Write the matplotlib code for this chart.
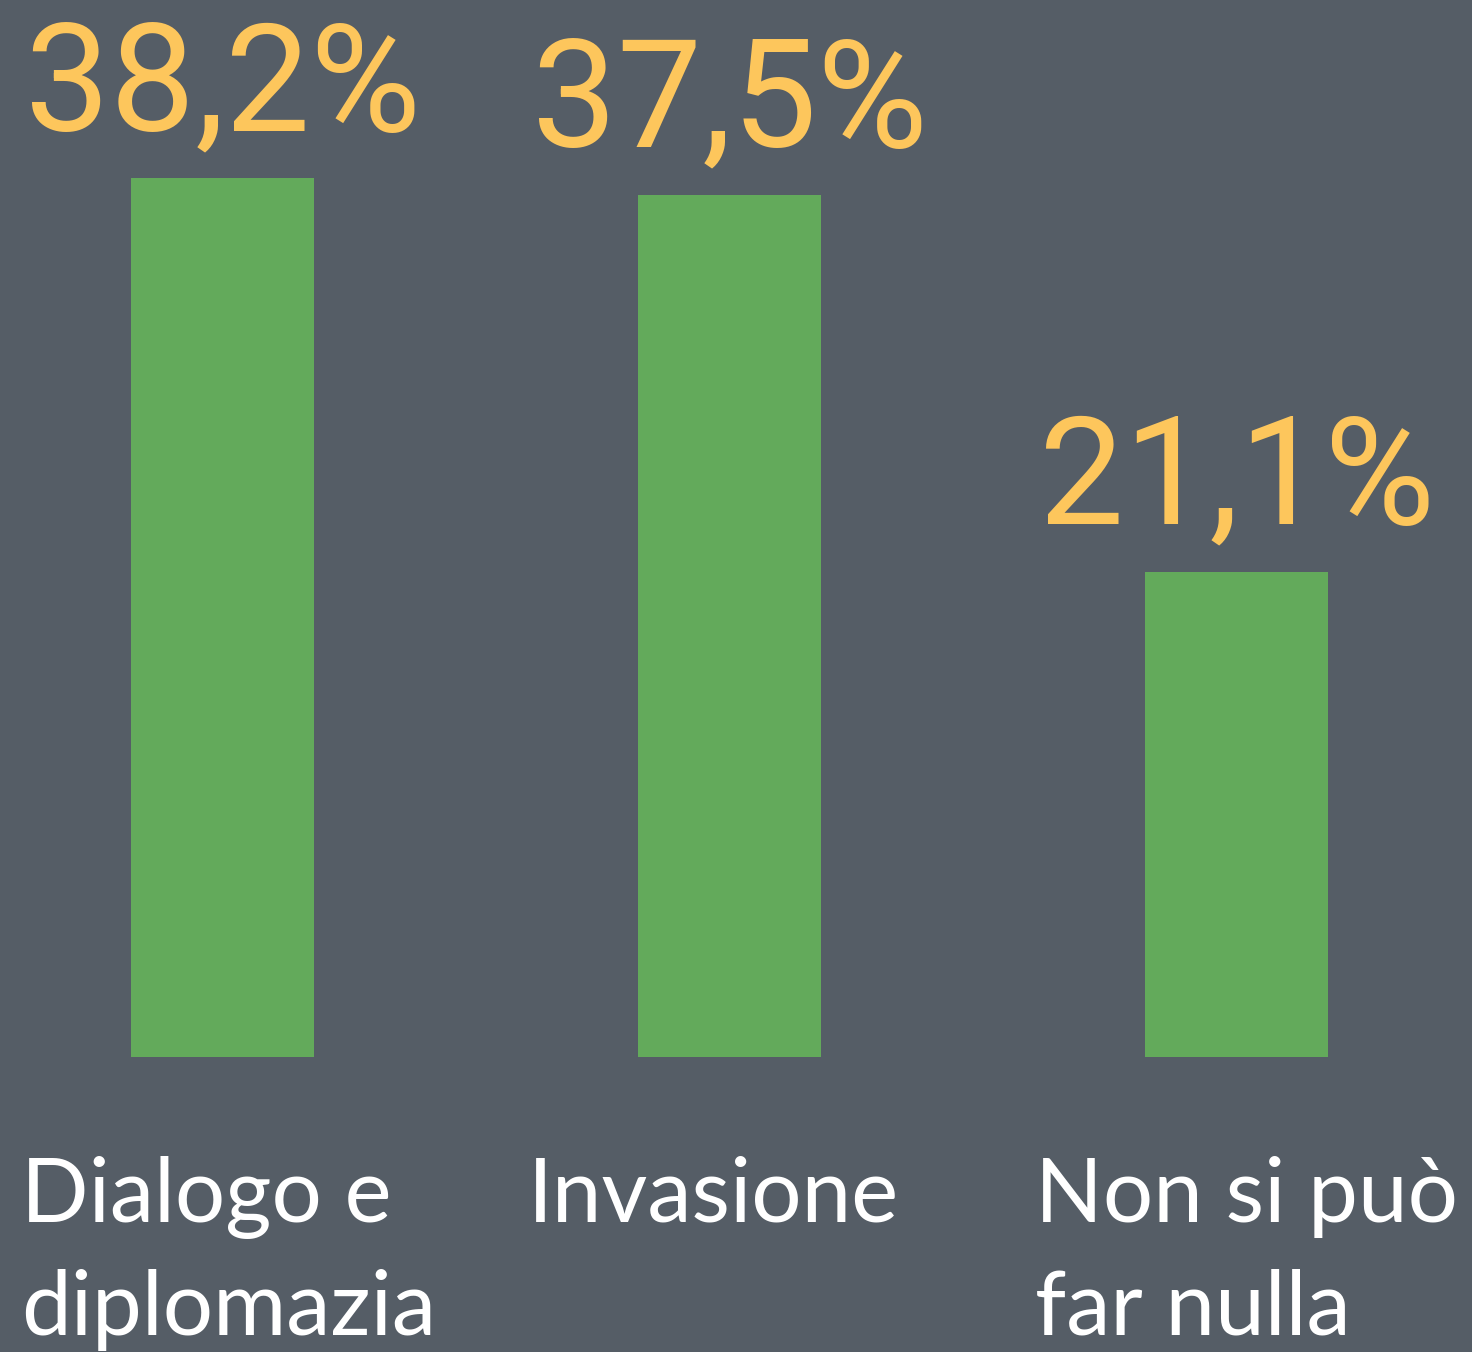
import matplotlib.pyplot as plt

categories = ["Dialogo e\ndiplomazia", "Invasione", "Non si può\nfar nulla"]
values = [38.2, 37.5, 21.1]
value_labels = ["38,2%", "37,5%", "21,1%"]

BG = "#555d66"
GREEN = "#63aa5b"
YELLOW = "#fdc65c"

fig = plt.figure(figsize=(14.72, 13.52), dpi=100, facecolor=BG)
ax = fig.add_axes([0, 0, 1, 1])
ax.set_facecolor(BG)

x = list(range(len(values)))
ax.bar(x, values, width=0.361, color=GREEN)

for i, v in enumerate(values):
    ax.text(i, v + 2.1, value_labels[i], ha="center", va="baseline",
            color=YELLOW, fontsize=109, family="Roboto")

# etichette delle categorie, allineate a sinistra sotto ogni barra
for i, cat in enumerate(categories):
    for j, line in enumerate(cat.split("\n")):
        ax.text(i - 0.397, -7.17 - j * 4.92, line, ha="left", va="baseline",
                color="white", fontsize=64, family="Lato")

ax.set_xlim(-0.439, 2.464)
ax.set_ylim(-12.83, 45.96)
ax.axis("off")

fig.savefig("out.png", dpi=100, facecolor=BG)
